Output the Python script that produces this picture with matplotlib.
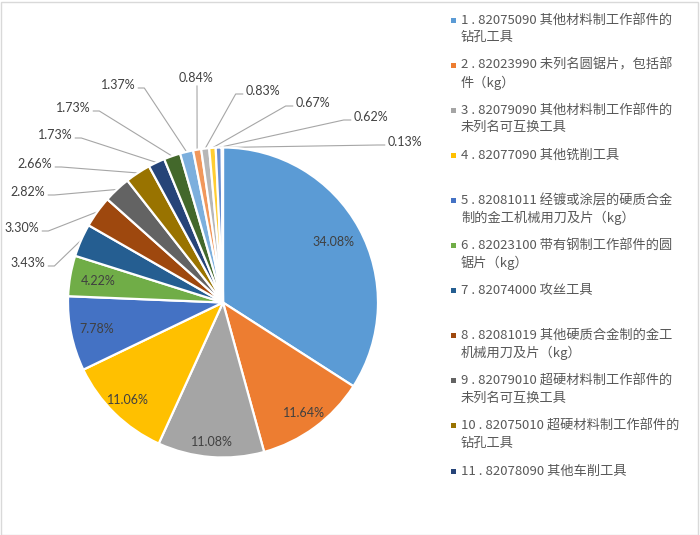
import numpy as np
import matplotlib
matplotlib.use("Agg")
import matplotlib.pyplot as plt
from matplotlib.patches import Rectangle

# ---------------- data ----------------
shares = [34.08, 11.64, 11.08, 11.06, 7.78, 4.22, 3.43, 3.30, 2.82, 2.66,
          1.73, 1.73, 1.37, 0.84, 0.83, 0.67, 0.62, 0.13]
pct_labels = [f"{v:.2f}%" for v in shares]
legend_labels = [
    "1 . 82075090 其他材料制工作部件的\n钻孔工具",
    "2 . 82023990 未列名圆锯片，包括部\n件（kg）",
    "3 . 82079090 其他材料制工作部件的\n未列名可互换工具",
    "4 . 82077090 其他铣削工具",
    "5 . 82081011 经镀或涂层的硬质合金\n制的金工机械用刀及片（kg）",
    "6 . 82023100 带有钢制工作部件的圆\n锯片（kg）",
    "7 . 82074000 攻丝工具",
    "8 . 82081019 其他硬质合金制的金工\n机械用刀及片（kg）",
    "9 . 82079010 超硬材料制工作部件的\n未列名可互换工具",
    "10 . 82075010 超硬材料制工作部件的\n钻孔工具",
    "11 . 82078090 其他车削工具",
]

# ---------------- style ----------------
colors = ["#5B9BD5", "#ED7D31", "#A5A5A5", "#FFC000", "#4472C4", "#70AD47",
          "#255E91", "#9E480E", "#636363", "#997300", "#264478", "#43682B",
          "#7CAFDD", "#F1975A", "#B7B7B7", "#FFCD33", "#698ED0", "#8CC168"]
W, H = 700, 535
CX, CY, R = 223, 302.5, 155          # pie centre / radius in pixels
inside_r = [0.81, 0.885, 0.90, 0.88, 0.83, 0.82]   # label radius (fraction of R)
# outer label centres (pixels) for slices 7..18
outer_pos = [(28, 263), (22, 228), (28, 192), (35, 164), (55, 135), (73, 108),
             (118, 85), (196, 78), (263, 91), (313, 103), (371, 117), (405, 142)]
txt_col = "#404040"
leg_col = "#595959"
line_col = "#A6A6A6"
num_font = ["Lato", "DejaVu Sans"]
cjk_font = ["Noto Sans CJK SC", "DejaVu Sans"]

fig = plt.figure(figsize=(W / 100, H / 100), dpi=100)
fig.patch.set_facecolor("white")
fig.add_artist(Rectangle((0.5 / W, 0.5 / H), 1 - 2.5 / W, 1 - 2.5 / H,
                         transform=fig.transFigure, fill=False,
                         edgecolor="#D9D9D9", linewidth=1))

ax = fig.add_axes([(CX - R) / W, (H - CY - R) / H, 2 * R / W, 2 * R / H])
wedges, _ = ax.pie(shares, colors=colors, startangle=90, counterclock=False,
                   radius=1.0, wedgeprops=dict(edgecolor="white", linewidth=1.6))
ax.set_xlim(-1, 1)
ax.set_ylim(-1, 1)
ax.set_aspect("equal")
ax.axis("off")

vals = np.array(shares)
cum = np.cumsum(vals) - vals / 2
mid = np.deg2rad(90 - cum / vals.sum() * 360)

def px2d(px, py):
    return (px - CX) / R, (CY - py) / R

# inside labels
for i, r in enumerate(inside_r):
    ax.text(r * np.cos(mid[i]), r * np.sin(mid[i]), pct_labels[i],
            ha="center", va="center", fontsize=9, color=txt_col, family=num_font)

# outside labels
texts = []
for k, (px, py) in enumerate(outer_pos):
    i = 6 + k
    x, y = px2d(px, py)
    t = ax.text(x, y, pct_labels[i], ha="center", va="center", fontsize=9,
                color=txt_col, family=num_font, clip_on=False)
    texts.append((i, t, px, py))

fig.canvas.draw()
rend = fig.canvas.get_renderer()
for i, t, px, py in texts:
    bb = t.get_window_extent(rend)
    hw = bb.width / 2
    ex, ey = np.cos(mid[i]), np.sin(mid[i])
    epx, epy = CX + R * ex, CY - R * ey
    if abs(epx - px) < hw:            # directly below the label
        pts = [(px + 1, py + 8), (epx, epy)]
    elif epx > px:                    # label on the left
        sx = px + hw + 3
        pts = [(sx, py + 3), (sx + 6, py + 3), (epx, epy)]
    else:                             # label on the right
        sx = px - hw - 3
        pts = [(sx, py + 3), (sx - 7, py + 3), (epx, epy)]
    d = [px2d(a, b) for a, b in pts]
    ax.plot([p[0] for p in d], [p[1] for p in d], color=line_col, lw=0.8,
            clip_on=False, zorder=0.5)

# legend
for j, lab in enumerate(legend_labels):
    y0 = 20 + 45.1 * j
    fig.add_artist(Rectangle(((453 - 2.5) / W, 1 - (y0 + 2.5) / H), 5 / W, 5 / H,
                             transform=fig.transFigure, facecolor=colors[j],
                             edgecolor="none"))
    for li, line in enumerate(lab.split("\n")):
        fig.text(461 / W, 1 - (y0 + 17.5 * li) / H, line, ha="left", va="center",
                 fontsize=9.5, color=leg_col, family=cjk_font)

fig.savefig("out.png", dpi=100, facecolor="white")
